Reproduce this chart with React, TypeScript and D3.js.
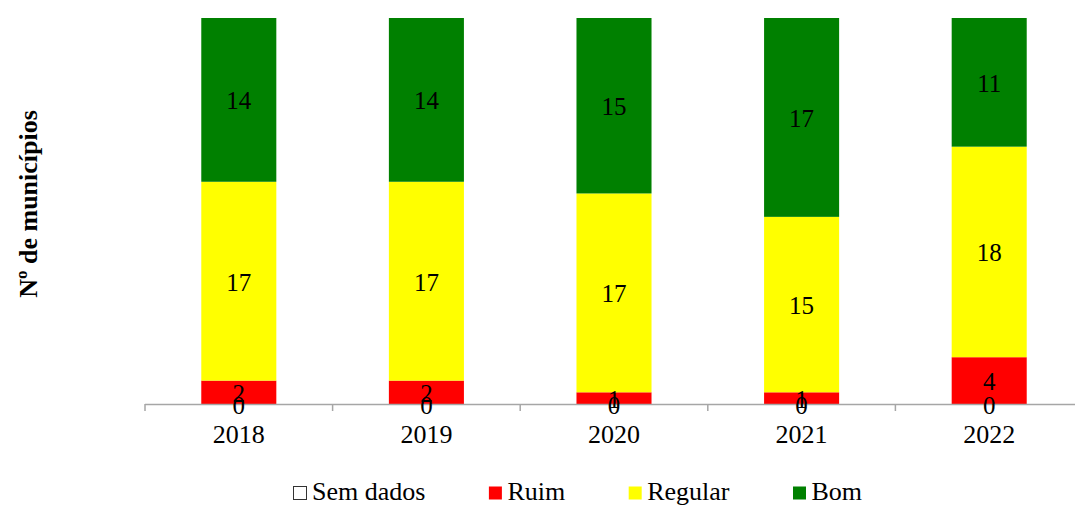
import React, { useEffect, useRef } from "react";
import * as d3 from "d3";

const years = ["2018", "2019", "2020", "2021", "2022"];
const semDados = [0, 0, 0, 0, 0];
const ruim = [2, 2, 1, 1, 4];
const regular = [17, 17, 17, 15, 18];
const bom = [14, 14, 15, 17, 11];
const seriesNames = ["Sem dados", "Ruim", "Regular", "Bom"];
const seriesColors = ["#FFFFFF", "#FF0000", "#FFFF00", "#008000"];
const yAxisTitle = "Nº de municípios";

const W = 1075;
const H = 505;

export default function App() {
  const ref = useRef<SVGSVGElement | null>(null);

  useEffect(() => {
    const svg = d3.select(ref.current);
    svg.selectAll("*").remove();

    const x0 = 145;
    const step = 187.6;
    const x = d3
      .scaleBand<string>()
      .domain(years)
      .range([x0, x0 + step * years.length])
      .paddingInner(0.6)
      .paddingOuter(0.3);
    const y = d3.scaleLinear().domain([0, 33]).range([404, 18]);

    const rows = years.map((yr, i) => ({
      year: yr,
      "Sem dados": semDados[i],
      Ruim: ruim[i],
      Regular: regular[i],
      Bom: bom[i],
    }));
    const stack = d3.stack<any>().keys(seriesNames)(rows);

    const serif = '"Liberation Serif", "Times New Roman", Times, serif';

    // bars
    stack.forEach((layer, si) => {
      const g = svg.append("g");
      g.selectAll("rect")
        .data(layer)
        .enter()
        .append("rect")
        .attr("x", (d: any) => x(d.data.year)!)
        .attr("width", x.bandwidth())
        .attr("y", (d: any) => y(d[1]))
        .attr("height", (d: any) => y(d[0]) - y(d[1]))
        .attr("fill", seriesColors[si]);
    });

    // axis line and ticks
    const axisColor = "#A6A6A6";
    svg
      .append("line")
      .attr("x1", x0)
      .attr("x2", x0 + step * years.length)
      .attr("y1", y(0) + 0.5)
      .attr("y2", y(0) + 0.5)
      .attr("stroke", axisColor)
      .attr("stroke-width", 1.5);
    d3.range(years.length + 1).forEach((i) => {
      svg
        .append("line")
        .attr("x1", x0 + i * step)
        .attr("x2", x0 + i * step)
        .attr("y1", y(0))
        .attr("y2", y(0) + 7)
        .attr("stroke", axisColor)
        .attr("stroke-width", 1.5);
    });

    // value labels
    stack.forEach((layer) => {
      svg
        .append("g")
        .selectAll("text")
        .data(layer)
        .enter()
        .append("text")
        .attr("x", (d: any) => x(d.data.year)! + x.bandwidth() / 2)
        .attr("y", (d: any) => (y(d[0]) + y(d[1])) / 2 + 1)
        .attr("text-anchor", "middle")
        .attr("dominant-baseline", "central")
        .style("font-family", serif)
        .style("font-size", "25px")
        .attr("fill", "#000")
        .text((d: any) => String(d[1] - d[0]));
    });

    // tick labels
    svg
      .append("g")
      .selectAll("text")
      .data(years)
      .enter()
      .append("text")
      .attr("x", (d) => x(d)! + x.bandwidth() / 2)
      .attr("y", 443)
      .attr("text-anchor", "middle")
      .style("font-family", serif)
      .style("font-size", "26px")
      .attr("fill", "#000")
      .text((d) => d);

    // y axis title
    svg
      .append("text")
      .attr("transform", "translate(28,204) rotate(-90)")
      .attr("text-anchor", "middle")
      .attr("dominant-baseline", "central")
      .style("font-family", serif)
      .style("font-weight", "bold")
      .style("font-size", "26px")
      .attr("fill", "#000")
      .text(yAxisTitle);

    // legend
    let lx = 293;
    const ly = 500;
    seriesNames.forEach((name, i) => {
      svg
        .append("rect")
        .attr("x", lx + 0.5)
        .attr("y", ly - 13.5)
        .attr("width", 13)
        .attr("height", 13)
        .attr("fill", seriesColors[i])
        .attr("stroke", i === 0 ? "#333" : "none")
        .attr("stroke-width", 1);
      const t = svg
        .append("text")
        .attr("x", lx + 19)
        .attr("y", ly)
        .style("font-family", serif)
        .style("font-size", "26px")
        .attr("fill", "#000")
        .text(name);
      const w = (t.node() as SVGTextElement).getComputedTextLength();
      lx += 19 + w + 63;
    });
  }, []);

  return (
    <svg
      ref={ref}
      width={W}
      height={H}
      style={{ position: "absolute", left: 0, top: 0, background: "#fff" }}
    />
  );
}
